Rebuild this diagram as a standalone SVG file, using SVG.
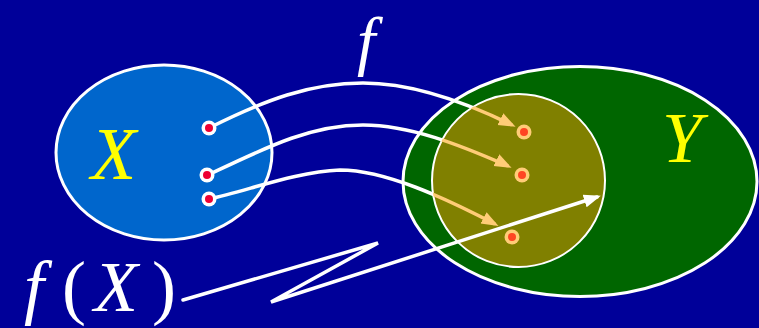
<svg xmlns="http://www.w3.org/2000/svg" width="759" height="328" viewBox="0 0 759 328">
<style>
.lbl{font-family:"Liberation Serif","Times New Roman",serif;font-style:italic;fill:#FFFF00;font-size:74px}
.wlbl{font-family:"Liberation Serif","Times New Roman",serif;fill:#FFFFFF;font-size:72px}
.wc{fill:none;stroke:#FFFFFF;stroke-width:3.5;stroke-linecap:round}
.oc{fill:none;stroke:#FFCC77;stroke-width:3.5}
.xd{fill:#FFFFFF}
.xr{fill:#EE0033}
.yd{fill:#FFCC77}
.yr{fill:#FF4422}
</style>
<defs>
<clipPath id="inner"><circle cx="518.5" cy="180.5" r="86.5"/></clipPath>
<marker id="oa" markerUnits="userSpaceOnUse" markerWidth="20" markerHeight="16" viewBox="0 0 20 16" refX="13" refY="8" orient="auto">
<path d="M0,1.5 L17,8 L0,14.5 Z" fill="#FFCC77"/>
</marker>
<marker id="wa" markerUnits="userSpaceOnUse" markerWidth="20" markerHeight="16" viewBox="0 0 20 16" refX="13" refY="8" orient="auto">
<path d="M0,1.5 L17,8 L0,14.5 Z" fill="#FFFFFF"/>
</marker>
</defs>
<rect x="0" y="0" width="759" height="328" fill="#000099"/>

<g id="setX">
<ellipse cx="164" cy="152.5" rx="108" ry="87.5" fill="#0066CC" stroke="#FFFFFF" stroke-width="3"/>
<text class="lbl" x="91" y="179">X</text>
</g>

<g id="setY">
<ellipse cx="580" cy="181.5" rx="177" ry="115" fill="#006600" stroke="#FFFFFF" stroke-width="3"/>
<text class="lbl" x="662" y="162" style="font-size:72px">Y</text>
</g>

<g id="connectors-white">
<path class="wc" d="M209,128 C265,100 310,83 363,83 C410,83 465,102 512,125"/>
<path class="wc" d="M208,175 C265,148 310,125 363,125 C410,125 460,145 508,166"/>
<path class="wc" d="M209,199 C250,190 295,172 340,170 C385,170 445,198 495,224"/>
</g>

<g id="image-fX">
<circle cx="518.5" cy="180.5" r="86.5" fill="#808000" stroke="#FFFFFF" stroke-width="2"/>
</g>

<g id="connectors-orange">
<g clip-path="url(#inner)">
<path class="oc" d="M209,128 C265,100 310,83 363,83 C410,83 465,102 512,125"/>
<path class="oc" d="M208,175 C265,148 310,125 363,125 C410,125 460,145 508,166"/>
<path class="oc" d="M209,199 C250,190 295,172 340,170 C385,170 445,198 495,224"/>
</g>
<path d="M463,104 C480,111 496,117 512,125" fill="none" stroke="none" marker-end="url(#oa)"/>
<path d="M460,147 C476,153 492,158 508,166" fill="none" stroke="none" marker-end="url(#oa)"/>
<path d="M448,201 C464,208 480,216 495,224" fill="none" stroke="none" marker-end="url(#oa)"/>
</g>

<g id="connector-fX">
<path class="wc" d="M183,300 L378,243 L271,302 L597,197" stroke-linejoin="miter" marker-end="url(#wa)"/>
</g>

<g id="dotsX">
<circle class="xd" cx="209" cy="128" r="7.5"/><circle class="xr" cx="209" cy="128" r="4"/>
<circle class="xd" cx="207" cy="175" r="7.5"/><circle class="xr" cx="207" cy="175" r="4"/>
<circle class="xd" cx="209" cy="199" r="7.5"/><circle class="xr" cx="209" cy="199" r="4"/>
</g>

<g id="dotsY">
<circle class="yd" cx="524" cy="132" r="7.5"/><circle class="yr" cx="524" cy="132" r="4"/>
<circle class="yd" cx="522" cy="175" r="7.5"/><circle class="yr" cx="522" cy="175" r="4"/>
<circle class="yd" cx="512" cy="237" r="7.5"/><circle class="yr" cx="512" cy="237" r="4"/>
</g>

<g id="label-f">
<text class="wlbl" x="357" y="63" font-style="italic" style="font-size:66px">f</text>
</g>

<g id="label-fX">
<text class="wlbl" y="311"><tspan x="24" font-style="italic">f</tspan><tspan x="62">(</tspan><tspan x="94" font-style="italic">X</tspan><tspan x="152">)</tspan></text>
</g>
</svg>
